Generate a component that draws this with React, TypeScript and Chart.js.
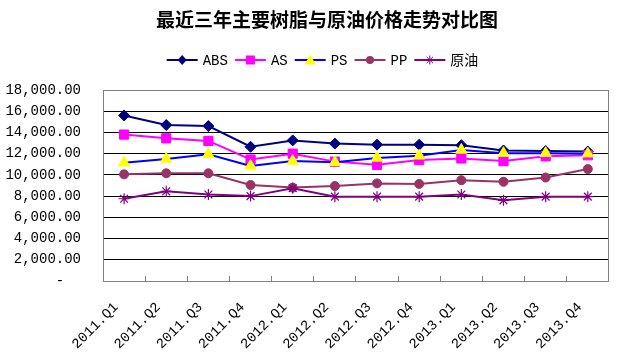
import React, { useEffect, useRef } from 'react';
import { Chart, registerables } from 'chart.js';

Chart.register(...registerables);

const titleText = '最近三年主要树脂与原油价格走势对比图';
const categories = ['2011.Q1', '2011.Q2', '2011.Q3', '2011.Q4', '2012.Q1', '2012.Q2', '2012.Q3', '2012.Q4', '2013.Q1', '2013.Q2', '2013.Q3', '2013.Q4'];
const absValues = [15600, 14700, 14600, 12650, 13250, 12950, 12850, 12850, 12800, 12300, 12250, 12200];
const asValues = [13800, 13450, 13200, 11450, 12000, 11250, 10950, 11400, 11550, 11300, 11750, 11850];
const psValues = [11150, 11500, 11950, 10850, 11300, 11200, 11600, 11800, 12350, 12050, 12050, 12000];
const ppValues = [10050, 10150, 10150, 9050, 8800, 8950, 9200, 9150, 9500, 9350, 9750, 10550];
const crudeValues = [7750, 8450, 8150, 8000, 8750, 7950, 7950, 7950, 8150, 7600, 7950, 7950];
const seriesNames = ['ABS', 'AS', 'PS', 'PP', '原油'];
const yMin = 0;
const yMax = 18000;
const yStep = 2000;

const monoFont = '"Liberation Mono", "Noto Sans CJK SC", monospace';

type Marker = 'rectRot' | 'rect' | 'triangle' | 'circle' | 'star';

const styles = [
  { line: '#000080', marker: '#000080', shape: 'rectRot' as Marker, radius: 5.5 },
  { line: '#FF00FF', marker: '#FF00FF', shape: 'rect' as Marker, radius: 6.5 },
  { line: '#0000FF', marker: '#FFFF00', shape: 'triangle' as Marker, radius: 6.5 },
  { line: '#993366', marker: '#993366', shape: 'circle' as Marker, radius: 4.5 },
  { line: '#800080', marker: '#800080', shape: 'star' as Marker, radius: 5.5 },
];

function drawMarker(ctx: CanvasRenderingContext2D, marker: Marker, cx: number, cy: number, color: string) {
  ctx.save();
  ctx.fillStyle = color;
  ctx.strokeStyle = color;
  ctx.lineWidth = 1;
  ctx.beginPath();
  if (marker === 'rectRot') {
    ctx.moveTo(cx, cy - 5);
    ctx.lineTo(cx + 4.5, cy);
    ctx.lineTo(cx, cy + 5);
    ctx.lineTo(cx - 4.5, cy);
    ctx.closePath();
    ctx.fill();
  } else if (marker === 'rect') {
    ctx.rect(cx - 4.5, cy - 4.5, 9, 9);
    ctx.fill();
  } else if (marker === 'triangle') {
    ctx.moveTo(cx, cy - 5.5);
    ctx.lineTo(cx + 5.5, cy + 4.5);
    ctx.lineTo(cx - 5.5, cy + 4.5);
    ctx.closePath();
    ctx.fill();
  } else if (marker === 'circle') {
    ctx.arc(cx, cy, 4, 0, Math.PI * 2);
    ctx.fill();
  } else {
    const r = 4.5;
    for (let k = 0; k < 4; k++) {
      const a = (k * Math.PI) / 4;
      ctx.moveTo(cx - r * Math.cos(a), cy - r * Math.sin(a));
      ctx.lineTo(cx + r * Math.cos(a), cy + r * Math.sin(a));
    }
    ctx.stroke();
  }
  ctx.restore();
}

const headerPlugin = {
  id: 'header',
  afterDraw(chart: any) {
    const ctx: CanvasRenderingContext2D = chart.ctx;
    ctx.save();
    // title
    ctx.fillStyle = '#000000';
    ctx.font = 'bold 19px "Noto Sans CJK SC", sans-serif';
    ctx.textAlign = 'center';
    ctx.textBaseline = 'middle';
    ctx.fillText(titleText, 327, 20);

    // legend
    const lineLen = 31;
    const gapLineText = 5;
    const gapItems = 7;
    ctx.font = '14px ' + monoFont;
    const widths = seriesNames.map((n) => ctx.measureText(n).width);
    const total = widths.reduce((a, w) => a + lineLen + gapLineText + w, 0) + gapItems * (seriesNames.length - 1);
    let x = 322.5 - total / 2;
    const cy = 60;
    ctx.textAlign = 'left';
    ctx.textBaseline = 'middle';
    seriesNames.forEach((name, i) => {
      const s = styles[i];
      ctx.strokeStyle = s.line;
      ctx.lineWidth = 2;
      ctx.beginPath();
      ctx.moveTo(x, cy);
      ctx.lineTo(x + lineLen, cy);
      ctx.stroke();
      drawMarker(ctx, s.shape, x + lineLen / 2, cy, s.marker);
      ctx.fillStyle = '#000000';
      ctx.fillText(name, x + lineLen + gapLineText, cy + 1);
      x += lineLen + gapLineText + widths[i] + gapItems;
    });
    ctx.restore();
  },
};

const plotBorder = {
  id: 'plotBorder',
  beforeDatasetsDraw(chart: any) {
    const { ctx, chartArea } = chart;
    ctx.save();
    ctx.strokeStyle = '#808080';
    ctx.lineWidth = 1;
    ctx.beginPath();
    ctx.moveTo(Math.round(chartArea.right) - 0.5, chartArea.top);
    ctx.lineTo(Math.round(chartArea.right) - 0.5, chartArea.bottom);
    ctx.stroke();
    ctx.restore();
  },
};

export default function App() {
  const canvasRef = useRef<HTMLCanvasElement | null>(null);

  useEffect(() => {
    document.body.style.margin = '0';
    const canvas = canvasRef.current;
    if (!canvas) return;

    const values = [absValues, asValues, psValues, ppValues, crudeValues];

    const datasets = seriesNames.map((name, i) => ({
      label: name,
      data: values[i],
      borderColor: styles[i].line,
      backgroundColor: styles[i].marker,
      borderWidth: 2,
      pointStyle: styles[i].shape,
      pointRadius: styles[i].radius,
      pointBackgroundColor: styles[i].marker,
      pointBorderColor: styles[i].marker,
      pointBorderWidth: styles[i].shape === 'star' ? 1.2 : 1,
      tension: 0,
      fill: false,
      order: seriesNames.length - i,
    }));

    const chart = new Chart(canvas, {
      type: 'line',
      data: { labels: categories, datasets },
      plugins: [plotBorder, headerPlugin],
      options: {
        animation: false,
        responsive: true,
        maintainAspectRatio: false,
        layout: { padding: { left: 0, right: 1, top: 90, bottom: 0 } },
        plugins: {
          tooltip: { enabled: false },
          title: { display: false },
          legend: { display: false },
        },
        scales: {
          x: {
            type: 'category',
            offset: true,
            grid: {
              display: true,
              drawOnChartArea: false,
              drawTicks: true,
              tickLength: -5,
              offset: true,
              color: '#808080',
            },
            border: { display: true, color: '#808080', width: 1 },
            ticks: {
              autoSkip: false,
              minRotation: 45,
              maxRotation: 45,
              padding: 23,
              labelOffset: -8,
              color: '#000000',
              font: { family: monoFont, size: 14 },
            },
            afterFit: (scale: any) => {
              scale.height = 79;
            },
          },
          y: {
            min: yMin,
            max: yMax,
            grid: {
              drawTicks: false,
              color: (ctx: any) =>
                ctx.tick && (ctx.tick.value === yMax || ctx.tick.value === yMin) ? '#808080' : '#000000',
              lineWidth: 1,
            },
            border: { display: true, color: '#808080', width: 1 },
            ticks: {
              stepSize: yStep,
              padding: 22,
              color: '#000000',
              font: { family: monoFont, size: 14 },
              callback: (v: any) =>
                Number(v) === 0
                  ? '-  '
                  : Number(v).toLocaleString('en-US', { minimumFractionDigits: 2, maximumFractionDigits: 2 }),
            },
            afterFit: (scale: any) => {
              scale.width = 103;
            },
          },
        },
      },
    });

    return () => {
      chart.destroy();
    };
  }, []);

  return (
    <div style={{ position: 'relative', width: '623px', height: '360px' }}>
      <canvas ref={canvasRef} />
    </div>
  );
}
